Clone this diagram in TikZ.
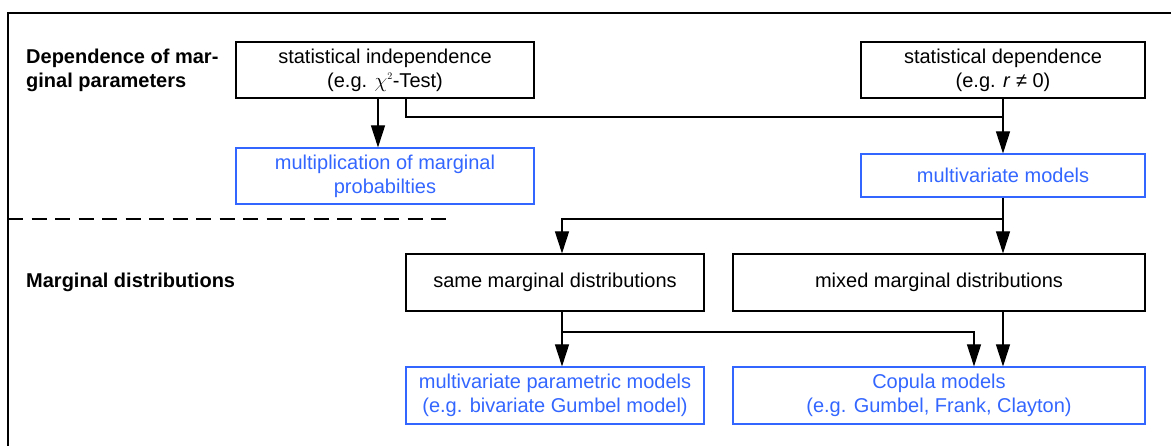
\documentclass[tikz,border=0pt]{standalone}
\usepackage{fontspec}
\setmainfont{Liberation Sans}
\usepackage{tikz}
\usetikzlibrary{arrows.meta,positioning}
\definecolor{boxblue}{RGB}{51,102,255}

\begin{document}
\begin{tikzpicture}[x=1pt,y=-1pt,
    every node/.style={font=\fontsize{20}{24}\selectfont},
    blk/.style={draw, line width=1.1pt, align=center, inner sep=0pt, minimum height=56pt},
    blubox/.style={blk, draw=boxblue, text=boxblue},
    lbl/.style={font=\fontsize{20}{24}\selectfont\bfseries, align=left, anchor=west, inner sep=0pt},
    arr/.style={-{Triangle[length=22pt,width=14pt]}, line width=1.1pt}]
  \clip (0,0) rectangle (1171,446);
  % frame and separator
  \draw[line width=1.2pt] (8,460) -- (8,13) -- (1180,13);
  \draw[line width=1.2pt, dash pattern=on 15pt off 8.5pt] (8,219) -- (449,219);

  \node[lbl] (lvlone) at (26,70) {Dependence of mar-\\ginal parameters};
  \node[lbl] (lvltwo) at (26,282) {Marginal distributions};

  \node[blk, minimum width=298pt] (indep) at (385,70) {statistical independence\\(e.g. $\chi^{\scriptscriptstyle 2}$-Test)};
  \node[blk, minimum width=284pt] (dep) at (1003,70) {statistical dependence\\(e.g. \textit{r} ≠ 0)};
  \node[blubox, minimum width=298pt] (mult) at (385,176) {multiplication of marginal\\probabilties};
  \node[blubox, minimum width=284pt, minimum height=43pt] (multiv) at (1003,175.5) {multivariate models};
  \node[blk, minimum width=298pt, minimum height=57pt] (same) at (555,282.5) {same marginal distributions};
  \node[blk, minimum width=412pt, minimum height=57pt] (mixed) at (939,282.5) {mixed marginal distributions};
  \node[blubox, minimum width=298pt, minimum height=57pt] (param) at (555,395.5) {multivariate parametric models\\(e.g. bivariate Gumbel model)};
  \node[blubox, minimum width=412pt, minimum height=57pt] (copula) at (939,395.5) {Copula models\\(e.g. Gumbel, Frank, Clayton)};

  % junctions
  \coordinate (jone) at (1003,117);
  \coordinate (jtwo) at (1003,219);
  \coordinate (jthree) at (562,332);

  \draw[arr] ([xshift=-7pt]indep.south) -- ([xshift=-7pt]mult.north);
  \draw[line width=1.1pt] ([xshift=21pt]indep.south) |- (jone);
  \draw[arr] (dep.south) -- (multiv.north);
  \draw[arr] (multiv.south) -- ([xshift=64pt]mixed.north);
  \draw[arr] (jtwo) -| ([xshift=7pt]same.north);
  \draw[arr] ([xshift=7pt]same.south) -- ([xshift=7pt]param.north);
  \draw[arr] (jthree) -| ([xshift=35pt]copula.north);
  \draw[arr] ([xshift=64pt]mixed.south) -- ([xshift=64pt]copula.north);
\end{tikzpicture}
\end{document}
